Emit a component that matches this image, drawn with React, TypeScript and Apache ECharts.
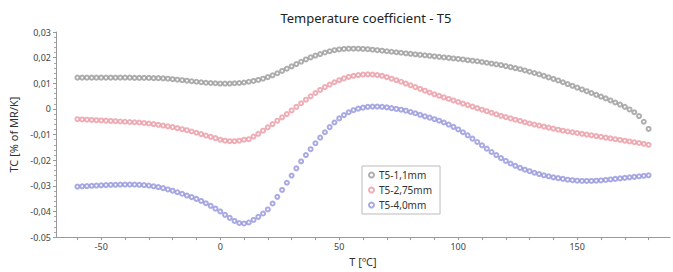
import React, { useEffect, useRef } from "react";
import * as echarts from "echarts";

const temps = [
  -60, -58, -56, -54, -52, -50, -48, -46, -44, -42, -40, -38, -36, -34, -32, -30, -28, -26, -24, -22,
  -20, -18, -16, -14, -12, -10, -8, -6, -4, -2, 0, 2, 4, 6, 8, 10, 12, 14, 16, 18,
  20, 22, 24, 26, 28, 30, 32, 34, 36, 38, 40, 42, 44, 46, 48, 50, 52, 54, 56, 58,
  60, 62, 64, 66, 68, 70, 72, 74, 76, 78, 80, 82, 84, 86, 88, 90, 92, 94, 96, 98,
  100, 102, 104, 106, 108, 110, 112, 114, 116, 118, 120, 122, 124, 126, 128, 130, 132, 134, 136, 138,
  140, 142, 144, 146, 148, 150, 152, 154, 156, 158, 160, 162, 164, 166, 168, 170, 172, 174, 176, 178,
  180,
];

const seriesNames = ["T5-1,1mm", "T5-2,75mm", "T5-4,0mm"];

const tc11 = [
  0.0122, 0.0122, 0.0122, 0.0122, 0.0122, 0.0122, 0.0122, 0.0122, 0.0122, 0.0122, 0.0122, 0.0122, 0.0121, 0.0121, 0.0121, 0.0121, 0.012, 0.012, 0.0119, 0.0118,
  0.0116, 0.0114, 0.0112, 0.011, 0.0108, 0.0106, 0.0104, 0.0102, 0.0101, 0.01, 0.0099, 0.0099, 0.0099, 0.01, 0.0101, 0.0103, 0.0106, 0.0109, 0.0113, 0.0118,
  0.0124, 0.0131, 0.0139, 0.0148, 0.0157, 0.0166, 0.0175, 0.0184, 0.0193, 0.0201, 0.0208, 0.0214, 0.022, 0.0225, 0.0229, 0.0232, 0.0234, 0.0235, 0.0235, 0.0235,
  0.0234, 0.0233, 0.0231, 0.0229, 0.0227, 0.0225, 0.0223, 0.0221, 0.0219, 0.0217, 0.0215, 0.0213, 0.0211, 0.0209, 0.0207, 0.0205, 0.0203, 0.0201, 0.0199, 0.0197,
  0.0195, 0.0193, 0.019, 0.0188, 0.0186, 0.0183, 0.018, 0.0177, 0.0174, 0.0171, 0.0167, 0.0163, 0.0159, 0.0155, 0.015, 0.0145, 0.014, 0.0135, 0.0129, 0.0123,
  0.0117, 0.0111, 0.0104, 0.0097, 0.009, 0.0083, 0.0076, 0.0069, 0.0062, 0.0055, 0.0048, 0.0041, 0.0033, 0.0025, 0.0017, 0.0008, -0.0002, -0.0013, -0.0028, -0.005,
  -0.0078,
];

const tc275 = [
  -0.004, -0.0041, -0.0042, -0.0043, -0.0044, -0.0045, -0.0046, -0.0047, -0.0048, -0.0049, -0.005, -0.0051, -0.0052, -0.0053, -0.0055, -0.0057, -0.0059, -0.0062, -0.0065, -0.0068,
  -0.0071, -0.0075, -0.0079, -0.0083, -0.0088, -0.0093, -0.0098, -0.0104, -0.0109, -0.0114, -0.012, -0.0124, -0.0126, -0.0126, -0.0124, -0.012, -0.0118, -0.0108, -0.0097, -0.0085,
  -0.0072, -0.0059, -0.0046, -0.0033, -0.002, -0.0006, 0.0008, 0.0022, 0.0036, 0.0049, 0.0062, 0.0074, 0.0085, 0.0095, 0.0104, 0.0112, 0.0119, 0.0125, 0.0129, 0.0132,
  0.0134, 0.0135, 0.0134, 0.0132, 0.0129, 0.0124, 0.0118, 0.0112, 0.0106, 0.0099, 0.0092, 0.0085, 0.0078, 0.0071, 0.0064, 0.0057, 0.0051, 0.0045, 0.0039, 0.0033,
  0.0027, 0.0021, 0.0015, 0.0009, 0.0003, -0.0003, -0.0009, -0.0015, -0.0021, -0.0027, -0.0032, -0.0037, -0.0042, -0.0047, -0.0052, -0.0057, -0.0061, -0.0065, -0.0069, -0.0073,
  -0.0077, -0.0081, -0.0085, -0.0088, -0.0091, -0.0094, -0.0097, -0.01, -0.0103, -0.0106, -0.0109, -0.0112, -0.0115, -0.0118, -0.0121, -0.0124, -0.0127, -0.013, -0.0133, -0.0136,
  -0.014,
];

const tc40 = [
  -0.0303, -0.0302, -0.0301, -0.03, -0.0299, -0.0298, -0.0297, -0.0296, -0.0296, -0.0295, -0.0295, -0.0295, -0.0295, -0.0296, -0.0297, -0.0299, -0.0302, -0.0305, -0.0309, -0.0314,
  -0.0319, -0.0325, -0.0331, -0.0338, -0.0344, -0.0351, -0.0359, -0.0368, -0.0378, -0.0389, -0.04, -0.0413, -0.0425, -0.0437, -0.0445, -0.0447, -0.0443, -0.0433, -0.0421, -0.0408,
  -0.0392, -0.0369, -0.0343, -0.0316, -0.0288, -0.026, -0.0232, -0.0205, -0.018, -0.0157, -0.0134, -0.0112, -0.0091, -0.0071, -0.0053, -0.0037, -0.0024, -0.0013, -0.0005, 0.0001,
  0.0005, 0.0008, 0.0009, 0.0009, 0.0008, 0.0006, 0.0003, 0.0, -0.0003, -0.0007, -0.0012, -0.0017, -0.0023, -0.0029, -0.0034, -0.004, -0.0046, -0.0053, -0.0061, -0.007,
  -0.008, -0.0091, -0.0103, -0.0116, -0.0129, -0.0142, -0.0155, -0.0168, -0.018, -0.0192, -0.0203, -0.0213, -0.0222, -0.023, -0.0237, -0.0243, -0.0249, -0.0254, -0.0259, -0.0263,
  -0.0267, -0.027, -0.0273, -0.0276, -0.0278, -0.028, -0.0281, -0.0281, -0.0281, -0.028, -0.0279, -0.0277, -0.0275, -0.0273, -0.0271, -0.0269, -0.0267, -0.0265, -0.0263, -0.0261,
  -0.0259,
];

const xLabelValues = [-50, 0, 50, 100, 150];
const xTickValues = [-60, -50, -40, -30, -20, -10, 0, 10, 20, 30, 40, 50, 60, 70, 80, 90, 100, 110, 120, 130, 140, 150, 160, 170, 180];
const yLabels: Record<string, string> = {
  "0.03": "0,03",
  "0.02": "0,02",
  "0.01": "0,01",
  "0": "0",
  "-0.01": "-0,01",
  "-0.02": "-0,02",
  "-0.03": "-0,03",
  "-0.04": "-0,04",
  "-0.05": "-0.05",
};

const colors = ["#9a9a9a", "#eb9aa4", "#9494dc"];
const FONT = "Noto Sans";

export default function App() {
  const ref = useRef<HTMLDivElement>(null);
  useEffect(() => {
    if (!ref.current) return;
    const chart = echarts.init(ref.current, null, { renderer: "svg" });
    const allSeries = [tc11, tc275, tc40];
    chart.setOption({
      animation: false,
      backgroundColor: "#ffffff",
      title: {
        text: "Temperature coefficient - T5",
        left: 361,
        textAlign: "center",
        top: 6,
        textStyle: { fontFamily: FONT, fontSize: 13, fontWeight: "normal", color: "#222" },
      },
      legend: {
        orient: "vertical",
        left: 362,
        top: 166,
        itemWidth: 5,
        itemHeight: 5,
        itemGap: 5,
        padding: [4, 8, 4, 6],
        borderColor: "#bbb",
        borderWidth: 1,
        textStyle: { fontFamily: FONT, fontSize: 10, color: "#333" },
        data: seriesNames.map((n) => ({ name: n, icon: "emptyCircle" })),
      },
      grid: { left: 51, right: 3, top: 32, bottom: 31, containLabel: false },
      xAxis: {
        type: "value",
        min: -69,
        max: 189,
        name: "T [ºC]",
        nameLocation: "middle",
        nameGap: 16,
        nameTextStyle: { fontFamily: FONT, fontSize: 11, color: "#333" },
        splitLine: { show: false },
        axisLine: { onZero: false, lineStyle: { color: "#999" } },
        axisTick: { customValues: xTickValues, length: 3, lineStyle: { color: "#999" } },
        axisLabel: {
          customValues: xLabelValues,
          fontFamily: FONT,
          fontSize: 9,
          color: "#444",
          margin: 5,
        },
      },
      yAxis: {
        type: "value",
        min: -0.05,
        max: 0.03,
        interval: 0.01,
        name: "TC [% of MR/K]",
        nameLocation: "middle",
        nameGap: 37,
        nameTextStyle: { fontFamily: FONT, fontSize: 11, color: "#333" },
        splitLine: { show: false },
        axisLine: { show: true, onZero: false, lineStyle: { color: "#999" } },
        axisTick: { show: true, length: 3, lineStyle: { color: "#999" } },
        minorTick: { show: true, splitNumber: 5, length: 2, lineStyle: { color: "#aaa" } },
        axisLabel: {
          fontFamily: FONT,
          fontSize: 9,
          color: "#444",
          margin: 5,
          formatter: (v: number) => yLabels[String(Math.round(v * 100) / 100)] ?? String(v),
        },
      },
      series: seriesNames.map((name, i) => ({
        name,
        type: "scatter",
        symbol: "emptyCircle",
        symbolSize: 4,
        itemStyle: { color: colors[i], borderColor: colors[i], borderWidth: 0.8 },
        data: temps.map((t, k) => [t, allSeries[i][k]]),
      })),
    });
    return () => chart.dispose();
  }, []);
  return <div ref={ref} style={{ width: 673, height: 272, position: "absolute", left: 0, top: 0 }} />;
}
